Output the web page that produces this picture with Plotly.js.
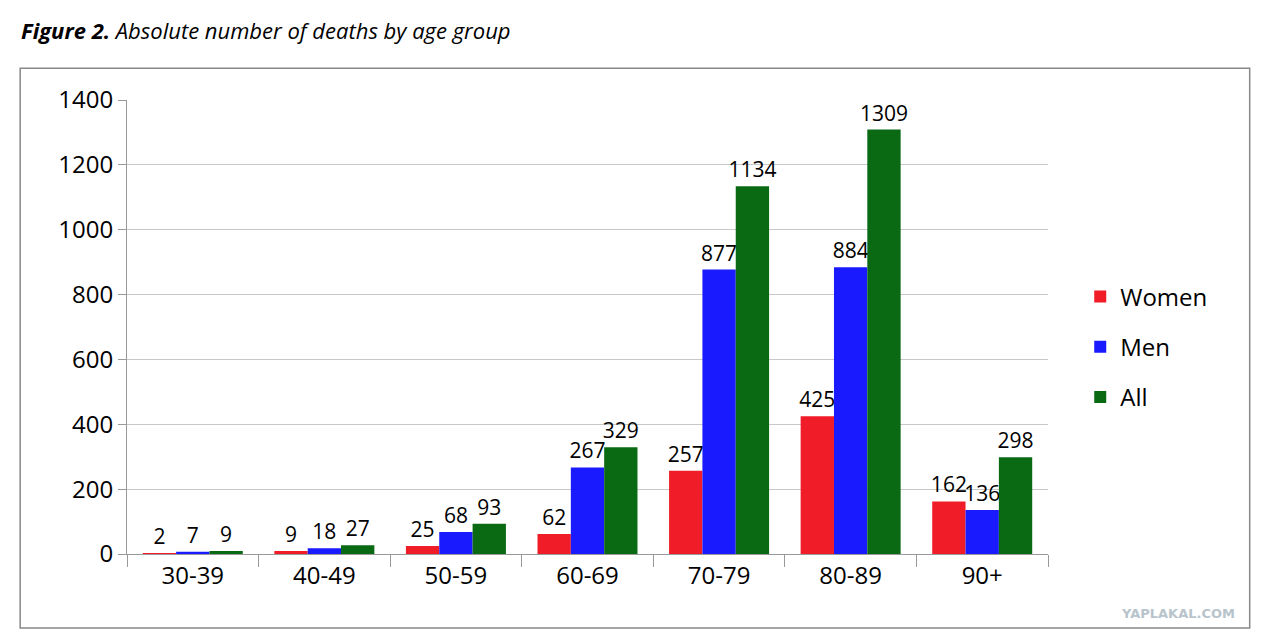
<!DOCTYPE html>
<html>
<head>
<meta charset="utf-8">
<script src="https://cdn.plot.ly/plotly-3.0.1.min.js"></script>
<style>body{margin:0;background:#fff}</style>
</head>
<body>
<div id="chart" style="width:1263px;height:643px"></div>
<script>
var ageGroups = ["30-39", "40-49", "50-59", "60-69", "70-79", "80-89", "90+"];
var women = [2, 9, 25, 62, 257, 425, 162];
var men = [7, 18, 68, 267, 877, 884, 136];
var all = [9, 27, 93, 329, 1134, 1309, 298];
var yTicks = [0, 200, 400, 600, 800, 1000, 1200, 1400];

function series(name, values, color) {
  return {
    x: ageGroups,
    y: values,
    name: name,
    legendgroup: name,
    type: 'bar',
    text: values.map(String),
    textposition: 'outside',
    constraintext: 'none',
    cliponaxis: false,
    textfont: { family: 'Open Sans', size: 21, color: 'black' },
    marker: { color: color }
  };
}

var data = [
  series("Women", women, '#f01c28'),
  series("Men", men, '#1a1aff'),
  series("All", all, '#0a6a14')
];

var layout = {
  width: 1263,
  height: 643,
  margin: { l: 127, r: 215, t: 100, b: 89 },
  barmode: 'group',
  bargap: 0.24,
  bargroupgap: 0,
  showlegend: true,
  legend: {
    x: 1.035, y: 0.456, yanchor: 'middle',
    font: { family: 'Open Sans', size: 24, color: 'black' },
    tracegroupgap: 16
  },
  xaxis: {
    type: 'category',
    tickson: 'boundaries',
    ticks: 'outside',
    ticklen: 12,
    tickcolor: '#999',
    showline: true,
    linecolor: '#999',
    tickfont: { family: 'Open Sans', size: 24, color: 'black' }
  },
  yaxis: {
    range: [0, 1400],
    tickvals: yTicks,
    ticks: 'outside',
    ticklen: 8,
    tickcolor: '#999',
    showline: true,
    linecolor: '#999',
    gridcolor: '#c8c8c8',
    zeroline: false,
    tickfont: { family: 'Open Sans', size: 24, color: 'black' }
  },
  shapes: [{
    type: 'rect', xref: 'paper', yref: 'paper',
    x0: -0.116, x1: 1.219, y0: -0.163, y1: 1.070,
    line: { color: '#888', width: 1.5 }
  }],
  annotations: [{
    xref: 'paper', yref: 'paper', x: -0.117, y: 1.154, xanchor: 'left', yanchor: 'middle',
    showarrow: false, align: 'left',
    text: '<b><i>Figure 2.</i></b><i> Absolute number of deaths by age group</i>',
    font: { family: 'Open Sans', size: 22, color: 'black' }
  }, {
    xref: 'paper', yref: 'paper', x: 1.205, y: -0.13, xanchor: 'right', yanchor: 'middle',
    showarrow: false, text: '<b>YAPLAKAL.COM</b>',
    font: { family: 'DejaVu Sans', size: 13, color: '#b8c4cc' }
  }]
};

Plotly.newPlot("chart", data, layout, { displayModeBar: false });
</script>
</body>
</html>
